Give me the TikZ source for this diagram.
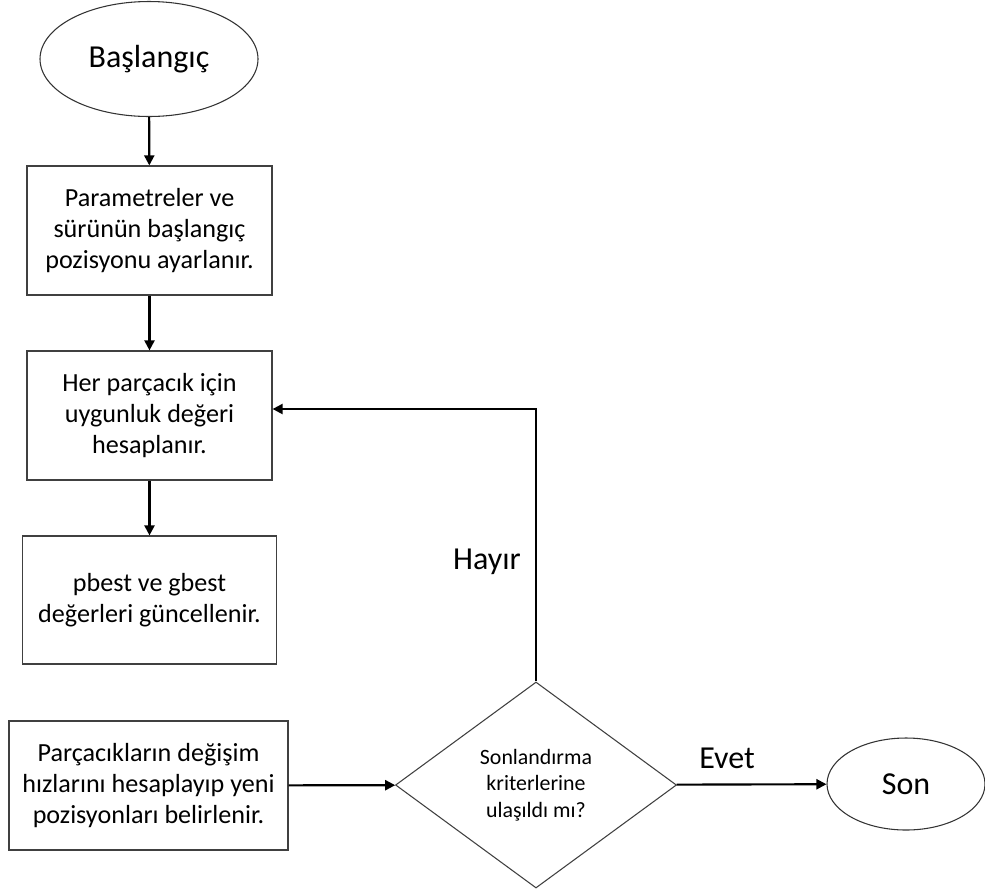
\documentclass[tikz,border=0pt]{standalone}
\usepackage{fontspec}
\setmainfont{Carlito}
\usetikzlibrary{shapes.geometric, arrows.meta}

\begin{document}
\begin{tikzpicture}[x=0.75pt,y=-0.75pt,
	box/.style={draw=black!75, line width=0.9pt, rectangle, inner sep=0pt, align=center,
		font=\fontsize{19.6}{23}\selectfont},
	oval/.style={draw=black!80, line width=0.8pt, ellipse, inner sep=0pt,
		font=\fontsize{24}{28}\selectfont},
	flow/.style={->, >={Triangle[length=7.5pt, width=7.5pt]}, line width=1.6pt}]
	\useasboundingbox (0,0) rectangle (985,890);

	\node[oval, minimum width=163.5pt, minimum height=86.25pt](s) at (149,59) {Başlangıç};
	\node[box, minimum width=183.75pt, minimum height=96.75pt](b1) at (149.5,230.5)
		{Parametreler ve\\sürünün başlangıç\\pozisyonu ayarlanır.};
	\node[box, minimum width=183.75pt, minimum height=96.75pt](b2) at (149.5,415.5)
		{Her parçacık için\\uygunluk değeri\\hesaplanır.};
	\node[box, minimum width=190.5pt, minimum height=96pt](b3) at (149.5,600)
		{pbest ve gbest\\değerleri güncellenir.};
	\node[box, minimum width=209.25pt, minimum height=96.75pt](b4) at (148.5,785.5)
		{Parçacıkların değişim\\hızlarını hesaplayıp yeni\\pozisyonları belirlenir.};

	\node[diamond, draw=black!75, line width=0.8pt, inner sep=0pt, align=center,
		minimum width=210.75pt, minimum height=154.5pt,
		font=\fontsize{16.4}{20}\selectfont](d) at (536,785)
		{Sonlandırma\\kriterlerine\\ulaşıldı mı?};
	\node[oval, minimum width=118.5pt, minimum height=69pt](e) at (906,784) {Son};

	\coordinate(lp) at (536,409);

	\draw[flow](s) -- (b1);
	\draw[flow](b1) -- (b2);
	\draw[flow](b2) -- (b3);
	\draw[flow](b4) -- (d);
	\draw[flow](d) -- (e);
	\draw[flow](d.north) -- (lp) -- (b2.east |- lp);

	\node[font=\fontsize{24}{28}\selectfont](no) at (487,562) {Hayır};
	\node[font=\fontsize{24}{28}\selectfont](yes) at (727,758) {Evet};
\end{tikzpicture}
\end{document}
